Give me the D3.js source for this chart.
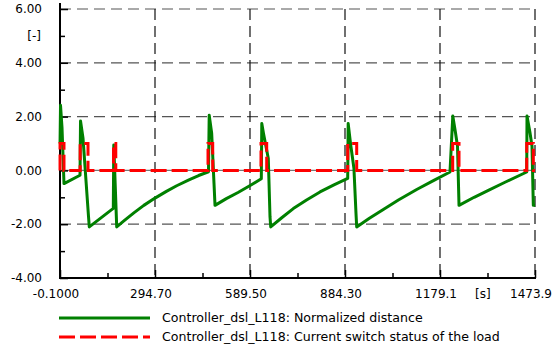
<!DOCTYPE html>
<html>
<head>
<meta charset="utf-8">
<script src="https://cdn.jsdelivr.net/npm/d3@7"></script>
<style>
body { margin: 0; background: #fff; }
text { font-family: "DejaVu Sans", sans-serif; font-size: 12px; fill: #000; }
.legend text { font-size: 12.6px; }
</style>
</head>
<body>
<div id="chart"></div>
<script>
var svgWidth = 554;
var svgHeight = 345;

// time [s] and normalized distance [-]
var distTime = [0, 1.5, 6.1, 12.3, 62, 63.6, 71.3, 88.3, 90.8,
	165.3, 166.8, 175.9, 200, 230, 260, 294.7, 330, 362, 400, 430, 460.7,
	462.9, 470.6, 477.8, 480.9, 516, 552.3, 590, 624.6,
	626.1, 631.4, 646.3, 651.6, 653.8, 688, 723.9, 765, 806.7, 850, 892.7,
	894.2, 901.4, 912, 918.4, 920.6, 960, 1003.2, 1050, 1106.8, 1160, 1210.1,
	1218.8, 1227.2, 1233.4, 1238.1, 1285, 1329.1, 1380.8, 1448.2,
	1449.1, 1458.4, 1464.6, 1468.7, 1473.9];
var distValue = [1.0, 2.42, 1.6, -0.49, -0.18, 1.84, 1.2, -1.7, -2.1,
	-1.41, 0.94, -2.1, -1.86, -1.57, -1.3, -1.03, -0.78, -0.57, -0.35, -0.19, -0.05,
	2.05, 1.38, -0.48, -1.3, -1.05, -0.82, -0.56, -0.31,
	1.74, 1.37, 0.44, -1.73, -2.1, -1.76, -1.42, -1.1, -0.8, -0.54, -0.3,
	1.74, 1.0, 0.08, -1.6, -2.1, -1.78, -1.45, -1.1, -0.71, -0.37, -0.06,
	2.02, 1.4, 0.9, -1.3, -1.0, -0.74, -0.44, -0.06,
	2.02, 1.4, 0.9, -1.3, -1.3];

// switch status of the load: on / off times [s]
var switchOn = [0, 62.5, 166, 459.2, 623.6, 892.7, 1218.5, 1448.2];
var switchOff = [12.3, 86.8, 173, 473.8, 641.3, 920.6, 1238.1, 1468.7];
var tEnd = 1473.9;

var xTicks = [-0.1, 294.7, 589.5, 884.3, 1179.1, 1473.9];
var xTickLabels = ["-0.1000", "294.70", "589.50", "884.30", "1179.1", "1473.9"];
var yTicks = [-4, -2, 0, 2, 4, 6];

var seriesNames = ["Controller_dsl_L118: Normalized distance",
	"Controller_dsl_L118: Current switch status of the load"];

var margin = { top: 9, left: 60, right: 19, bottom: 67 };
var width = svgWidth - margin.left - margin.right;
var height = svgHeight - margin.top - margin.bottom;

var svg = d3.select("#chart")
	.append("svg")
	.attr("width", svgWidth)
	.attr("height", svgHeight);

var chartGroup = svg.append("g")
	.attr("transform", `translate(${margin.left}, ${margin.top})`);

var x = d3.scaleLinear().domain([-0.1, 1473.9]).range([0, width]);
var y = d3.scaleLinear().domain([-4, 6]).range([height, 0]);

// grid
chartGroup.selectAll(".hgrid")
	.data(yTicks.filter(d => d !== -4 && d !== 0))
	.enter()
	.append("line")
	.attr("x1", 0).attr("x2", width)
	.attr("y1", d => y(d)).attr("y2", d => y(d))
	.attr("stroke", "#555")
	.attr("stroke-width", 1.2)
	.attr("stroke-dasharray", "11,6");

chartGroup.append("line")
	.attr("x1", 0).attr("x2", width)
	.attr("y1", y(0)).attr("y2", y(0))
	.attr("stroke", "#777")
	.attr("stroke-width", 1.2);

chartGroup.selectAll(".vgrid")
	.data(xTicks.slice(1))
	.enter()
	.append("line")
	.attr("x1", d => x(d)).attr("x2", d => x(d))
	.attr("y1", 0).attr("y2", height)
	.attr("stroke", "#111")
	.attr("stroke-width", 1.2)
	.attr("stroke-dasharray", "11,6");

// axes
var yMinor = d3.range(-3, 6, 2);
var xMinor = xTicks.slice(1).map(d => d - 294.8 / 2);

var leftAxis = d3.axisRight(y).tickValues(yTicks).tickSize(8).tickFormat("");
var bottomAxis = d3.axisTop(x).tickValues(xTicks).tickSize(8).tickFormat("");

var yAxis = chartGroup.append("g").call(leftAxis);
yAxis.append("g").call(d3.axisRight(y).tickValues(yMinor).tickSize(5).tickFormat(""));
var xAxis = chartGroup.append("g")
	.attr("transform", `translate(0, ${height})`)
	.call(bottomAxis);
xAxis.append("g").call(d3.axisTop(x).tickValues(xMinor).tickSize(5).tickFormat(""));

chartGroup.selectAll(".domain").remove();
chartGroup.selectAll(".tick line").attr("stroke", "#000").attr("stroke-width", 1.5);

chartGroup.append("line")
	.attr("x1", 0).attr("x2", 0)
	.attr("y1", -6).attr("y2", height + 1)
	.attr("stroke", "#000").attr("stroke-width", 2);
chartGroup.append("line")
	.attr("x1", -1).attr("x2", width + 1)
	.attr("y1", height).attr("y2", height)
	.attr("stroke", "#000").attr("stroke-width", 2);

// tick labels
chartGroup.selectAll(".ylabel")
	.data(yTicks)
	.enter()
	.append("text")
	.attr("x", -18)
	.attr("y", d => y(d))
	.attr("dy", "0.35em")
	.attr("text-anchor", "end")
	.text(d => d.toFixed(2));

chartGroup.append("text")
	.attr("x", -19)
	.attr("y", y(5))
	.attr("dy", "0.35em")
	.attr("text-anchor", "end")
	.text("[-]");

chartGroup.selectAll(".xlabel")
	.data(xTicks)
	.enter()
	.append("text")
	.attr("x", d => x(d) - 4)
	.attr("y", height + 16)
	.attr("dy", "0.35em")
	.attr("text-anchor", "middle")
	.text((d, i) => xTickLabels[i]);

chartGroup.append("text")
	.attr("x", x(1312))
	.attr("y", height + 16)
	.attr("dy", "0.35em")
	.attr("text-anchor", "middle")
	.text("[s]");

// series
var distData = distTime.map((t, i) => ({ t: t, v: distValue[i] }));
var switchData = [];
switchOn.forEach(function(on, i) {
	switchData.push({ t: on, v: 0 }, { t: on, v: 1 });
	switchData.push({ t: switchOff[i], v: 1 }, { t: switchOff[i], v: 0 });
});
switchData.push({ t: tEnd, v: 0 });

var line = d3.line().x(d => x(d.t)).y(d => y(d.v));

chartGroup.append("path")
	.datum(distData)
	.attr("d", line)
	.attr("fill", "none")
	.attr("stroke", "#008000")
	.attr("stroke-width", 3)
	.attr("stroke-linejoin", "round");

chartGroup.append("path")
	.datum(switchData)
	.attr("d", line)
	.attr("fill", "none")
	.attr("stroke", "#ff0000")
	.attr("stroke-width", 3)
	.attr("stroke-dasharray", "16,5");

// legend
var legendColors = ["#008000", "#ff0000"];
var legendDash = [null, "16,5"];
var legend = svg.append("g").attr("class", "legend");
seriesNames.forEach(function(name, i) {
	var ly = 318 + i * 19;
	legend.append("line")
		.attr("x1", 59).attr("x2", 150)
		.attr("y1", ly).attr("y2", ly)
		.attr("stroke", legendColors[i])
		.attr("stroke-width", 3)
		.attr("stroke-dasharray", legendDash[i]);
	legend.append("text")
		.attr("x", 162)
		.attr("y", ly)
		.attr("dy", "0.35em")
		.text(name);
});
</script>
</body>
</html>
